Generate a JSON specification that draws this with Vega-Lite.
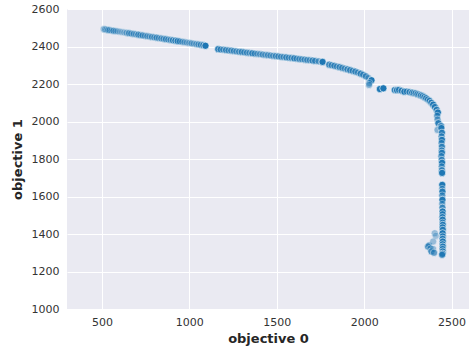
{
  "$schema": "https://vega.github.io/schema/vega-lite/v6.json",
  "width": 402,
  "height": 300,
  "autosize": {"type": "none"},
  "padding": {"left": 67, "top": 9, "right": 0, "bottom": 42},
  "background": "white",
  "config": {
    "view": {"fill": "#EAEAF2", "stroke": null},
    "axis": {
      "grid": true, "gridColor": "white", "gridWidth": 1,
      "domain": false, "ticks": false, "format": "d",
      "labelFont": "DejaVu Sans", "labelFontSize": 11, "labelColor": "#333333",
      "titleFont": "DejaVu Sans", "titleFontSize": 13, "titleFontWeight": "bold", "titleColor": "#262626"
    }
  },
  "data": {"values": [
    {"o0": 510, "o1": 2493, "gen": 0.35}, {"o0": 518, "o1": 2491, "gen": 0.5}, {"o0": 527, "o1": 2490, "gen": 0.3},
    {"o0": 536, "o1": 2488, "gen": 0.6}, {"o0": 545, "o1": 2487, "gen": 0.4}, {"o0": 556, "o1": 2485, "gen": 0.3},
    {"o0": 566, "o1": 2484, "gen": 0.55}, {"o0": 578, "o1": 2482, "gen": 0.3}, {"o0": 590, "o1": 2481, "gen": 0.25},
    {"o0": 603, "o1": 2479, "gen": 0.2}, {"o0": 615, "o1": 2477, "gen": 0.15}, {"o0": 628, "o1": 2475, "gen": 0.2},
    {"o0": 641, "o1": 2473, "gen": 0.4}, {"o0": 655, "o1": 2471, "gen": 0.6}, {"o0": 668, "o1": 2469, "gen": 0.35},
    {"o0": 682, "o1": 2467, "gen": 0.5}, {"o0": 695, "o1": 2465, "gen": 0.3}, {"o0": 708, "o1": 2463, "gen": 0.7},
    {"o0": 720, "o1": 2461, "gen": 0.4}, {"o0": 733, "o1": 2459, "gen": 0.6}, {"o0": 746, "o1": 2457, "gen": 0.35},
    {"o0": 760, "o1": 2455, "gen": 0.5}, {"o0": 773, "o1": 2453, "gen": 0.3}, {"o0": 786, "o1": 2451, "gen": 0.55},
    {"o0": 800, "o1": 2449, "gen": 0.4}, {"o0": 813, "o1": 2447, "gen": 0.6}, {"o0": 826, "o1": 2445, "gen": 0.35},
    {"o0": 840, "o1": 2443, "gen": 0.5}, {"o0": 853, "o1": 2441, "gen": 0.45}, {"o0": 866, "o1": 2439, "gen": 0.6},
    {"o0": 880, "o1": 2437, "gen": 0.4}, {"o0": 893, "o1": 2435, "gen": 0.55}, {"o0": 906, "o1": 2433, "gen": 0.7},
    {"o0": 920, "o1": 2431, "gen": 0.8}, {"o0": 933, "o1": 2429, "gen": 0.85}, {"o0": 946, "o1": 2427, "gen": 0.5},
    {"o0": 960, "o1": 2425, "gen": 0.4}, {"o0": 973, "o1": 2423, "gen": 0.35}, {"o0": 986, "o1": 2421, "gen": 0.3},
    {"o0": 1000, "o1": 2419, "gen": 0.35}, {"o0": 1013, "o1": 2417, "gen": 0.4}, {"o0": 1026, "o1": 2415, "gen": 0.3},
    {"o0": 1040, "o1": 2413, "gen": 0.45}, {"o0": 1053, "o1": 2411, "gen": 0.5}, {"o0": 1066, "o1": 2409, "gen": 0.6},
    {"o0": 1080, "o1": 2407, "gen": 0.7}, {"o0": 1092, "o1": 2404, "gen": 1.0},
    {"o0": 1165, "o1": 2386, "gen": 0.9}, {"o0": 1180, "o1": 2384, "gen": 0.6}, {"o0": 1195, "o1": 2383, "gen": 0.5},
    {"o0": 1210, "o1": 2381, "gen": 0.7}, {"o0": 1225, "o1": 2379, "gen": 0.5}, {"o0": 1240, "o1": 2378, "gen": 0.6},
    {"o0": 1255, "o1": 2376, "gen": 0.55}, {"o0": 1270, "o1": 2374, "gen": 0.5}, {"o0": 1285, "o1": 2372, "gen": 0.6},
    {"o0": 1300, "o1": 2371, "gen": 0.7}, {"o0": 1315, "o1": 2369, "gen": 0.5}, {"o0": 1330, "o1": 2367, "gen": 0.6},
    {"o0": 1345, "o1": 2366, "gen": 0.45}, {"o0": 1360, "o1": 2364, "gen": 0.8}, {"o0": 1375, "o1": 2362, "gen": 0.5},
    {"o0": 1390, "o1": 2361, "gen": 0.4}, {"o0": 1405, "o1": 2359, "gen": 0.45}, {"o0": 1420, "o1": 2357, "gen": 0.5},
    {"o0": 1435, "o1": 2355, "gen": 0.4}, {"o0": 1450, "o1": 2354, "gen": 0.55}, {"o0": 1465, "o1": 2352, "gen": 0.45},
    {"o0": 1480, "o1": 2350, "gen": 0.5}, {"o0": 1495, "o1": 2349, "gen": 0.6}, {"o0": 1510, "o1": 2347, "gen": 0.55},
    {"o0": 1525, "o1": 2345, "gen": 0.6}, {"o0": 1540, "o1": 2344, "gen": 0.5}, {"o0": 1555, "o1": 2342, "gen": 0.7},
    {"o0": 1570, "o1": 2340, "gen": 0.55}, {"o0": 1585, "o1": 2339, "gen": 0.6}, {"o0": 1600, "o1": 2337, "gen": 0.8},
    {"o0": 1615, "o1": 2335, "gen": 0.5}, {"o0": 1630, "o1": 2333, "gen": 0.6}, {"o0": 1645, "o1": 2332, "gen": 0.5},
    {"o0": 1660, "o1": 2330, "gen": 0.55}, {"o0": 1675, "o1": 2328, "gen": 0.6}, {"o0": 1690, "o1": 2327, "gen": 0.5},
    {"o0": 1705, "o1": 2325, "gen": 0.7}, {"o0": 1720, "o1": 2323, "gen": 0.6}, {"o0": 1740, "o1": 2321, "gen": 0.5},
    {"o0": 1762, "o1": 2318, "gen": 1.0},
    {"o0": 1800, "o1": 2303, "gen": 0.8}, {"o0": 1815, "o1": 2300, "gen": 0.6}, {"o0": 1830, "o1": 2297, "gen": 0.7},
    {"o0": 1845, "o1": 2293, "gen": 0.5}, {"o0": 1860, "o1": 2290, "gen": 0.7}, {"o0": 1875, "o1": 2286, "gen": 0.6},
    {"o0": 1890, "o1": 2282, "gen": 0.5}, {"o0": 1905, "o1": 2278, "gen": 0.7}, {"o0": 1920, "o1": 2274, "gen": 0.8},
    {"o0": 1935, "o1": 2270, "gen": 0.6}, {"o0": 1950, "o1": 2266, "gen": 0.7}, {"o0": 1965, "o1": 2261, "gen": 0.5},
    {"o0": 1980, "o1": 2255, "gen": 0.8}, {"o0": 1995, "o1": 2249, "gen": 0.6}, {"o0": 2010, "o1": 2241, "gen": 0.7},
    {"o0": 2025, "o1": 2232, "gen": 0.4}, {"o0": 2042, "o1": 2220, "gen": 1.0}, {"o0": 2030, "o1": 2205, "gen": 0.5},
    {"o0": 2028, "o1": 2195, "gen": 0.4},
    {"o0": 2090, "o1": 2173, "gen": 1.0}, {"o0": 2110, "o1": 2177, "gen": 1.0}, {"o0": 2175, "o1": 2168, "gen": 0.9},
    {"o0": 2188, "o1": 2167, "gen": 1.0}, {"o0": 2200, "o1": 2169, "gen": 0.7}, {"o0": 2215, "o1": 2164, "gen": 0.8},
    {"o0": 2230, "o1": 2159, "gen": 1.0}, {"o0": 2245, "o1": 2160, "gen": 0.6}, {"o0": 2260, "o1": 2157, "gen": 0.8},
    {"o0": 2275, "o1": 2154, "gen": 0.9}, {"o0": 2285, "o1": 2152, "gen": 0.6}, {"o0": 2295, "o1": 2150, "gen": 0.7},
    {"o0": 2305, "o1": 2146, "gen": 0.8}, {"o0": 2315, "o1": 2143, "gen": 0.6}, {"o0": 2325, "o1": 2139, "gen": 0.9},
    {"o0": 2335, "o1": 2135, "gen": 0.7}, {"o0": 2345, "o1": 2130, "gen": 0.8}, {"o0": 2355, "o1": 2124, "gen": 0.9},
    {"o0": 2365, "o1": 2117, "gen": 0.7}, {"o0": 2375, "o1": 2110, "gen": 0.8}, {"o0": 2385, "o1": 2100, "gen": 0.9},
    {"o0": 2395, "o1": 2090, "gen": 1.0}, {"o0": 2405, "o1": 2077, "gen": 0.8}, {"o0": 2415, "o1": 2062, "gen": 0.9},
    {"o0": 2422, "o1": 2048, "gen": 1.0}, {"o0": 2418, "o1": 2030, "gen": 0.6}, {"o0": 2420, "o1": 2010, "gen": 0.5},
    {"o0": 2425, "o1": 1991, "gen": 0.9}, {"o0": 2440, "o1": 1975, "gen": 1.0}, {"o0": 2420, "o1": 1955, "gen": 0.4},
    {"o0": 2442, "o1": 1965, "gen": 0.8}, {"o0": 2445, "o1": 1940, "gen": 0.9}, {"o0": 2443, "o1": 1920, "gen": 0.6},
    {"o0": 2445, "o1": 1902, "gen": 1.0}, {"o0": 2443, "o1": 1885, "gen": 0.6}, {"o0": 2445, "o1": 1865, "gen": 0.8},
    {"o0": 2444, "o1": 1845, "gen": 0.7}, {"o0": 2445, "o1": 1833, "gen": 0.9}, {"o0": 2442, "o1": 1815, "gen": 0.6},
    {"o0": 2444, "o1": 1795, "gen": 0.8}, {"o0": 2446, "o1": 1780, "gen": 1.0}, {"o0": 2444, "o1": 1760, "gen": 0.6},
    {"o0": 2445, "o1": 1740, "gen": 0.8}, {"o0": 2446, "o1": 1726, "gen": 1.0}, {"o0": 2447, "o1": 1662, "gen": 1.0},
    {"o0": 2447, "o1": 1640, "gen": 0.6}, {"o0": 2448, "o1": 1626, "gen": 0.9}, {"o0": 2447, "o1": 1605, "gen": 0.6},
    {"o0": 2448, "o1": 1582, "gen": 1.0}, {"o0": 2447, "o1": 1560, "gen": 0.5}, {"o0": 2448, "o1": 1540, "gen": 0.7},
    {"o0": 2449, "o1": 1520, "gen": 1.0}, {"o0": 2449, "o1": 1505, "gen": 0.7}, {"o0": 2448, "o1": 1490, "gen": 0.8},
    {"o0": 2449, "o1": 1476, "gen": 0.9}, {"o0": 2449, "o1": 1460, "gen": 0.7}, {"o0": 2450, "o1": 1449, "gen": 1.0},
    {"o0": 2449, "o1": 1435, "gen": 0.8}, {"o0": 2450, "o1": 1422, "gen": 0.9}, {"o0": 2449, "o1": 1404, "gen": 1.0},
    {"o0": 2450, "o1": 1387, "gen": 0.8}, {"o0": 2449, "o1": 1374, "gen": 0.9}, {"o0": 2450, "o1": 1360, "gen": 1.0},
    {"o0": 2449, "o1": 1345, "gen": 0.8}, {"o0": 2450, "o1": 1333, "gen": 1.0}, {"o0": 2449, "o1": 1320, "gen": 0.8},
    {"o0": 2450, "o1": 1307, "gen": 0.9}, {"o0": 2449, "o1": 1295, "gen": 1.0}, {"o0": 2446, "o1": 1289, "gen": 0.7},
    {"o0": 2366, "o1": 1333, "gen": 0.8}, {"o0": 2372, "o1": 1340, "gen": 0.4}, {"o0": 2380, "o1": 1322, "gen": 0.5},
    {"o0": 2385, "o1": 1307, "gen": 0.7}, {"o0": 2395, "o1": 1320, "gen": 0.3}, {"o0": 2395, "o1": 1360, "gen": 0.3},
    {"o0": 2404, "o1": 1404, "gen": 0.3}, {"o0": 2410, "o1": 1390, "gen": 0.25}, {"o0": 2400, "o1": 1300, "gen": 0.6}
  ]},
  "mark": {"type": "circle", "fill": "#1f77b4", "stroke": "white", "strokeWidth": 0.6, "size": 52},
  "encoding": {
    "x": {"field": "o0", "type": "quantitative", "title": "objective 0",
      "scale": {"domain": [300, 2600], "nice": false, "zero": false},
      "axis": {"values": [500, 1000, 1500, 2000, 2500], "labelPadding": 7, "titlePadding": 5}},
    "y": {"field": "o1", "type": "quantitative", "title": "objective 1",
      "scale": {"domain": [1000, 2600], "nice": false, "zero": false},
      "axis": {"values": [1000, 1200, 1400, 1600, 1800, 2000, 2200, 2400, 2600], "labelPadding": 8, "titlePadding": 7}},
    "opacity": {"field": "gen", "type": "quantitative", "scale": {"domain": [0, 1], "range": [0.15, 1]}, "legend": null}
  }
}
